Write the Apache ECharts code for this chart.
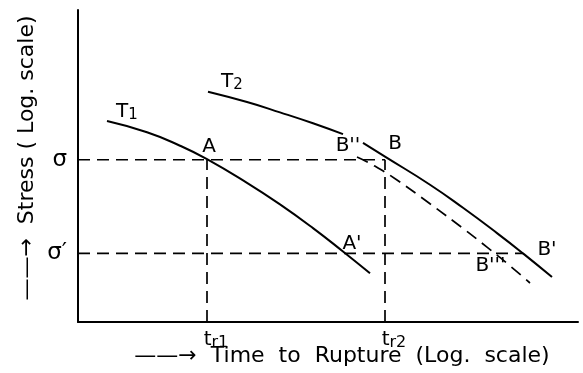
<!DOCTYPE html>
<html>
<head>
<meta charset="utf-8">
<script src="https://cdn.jsdelivr.net/npm/echarts@6/dist/echarts.min.js"></script>
<style>
  html, body { margin: 0; padding: 0; background: #fff; }
  #chart { width: 583px; height: 373px; }
</style>
</head>
<body>
<div id="chart"></div>
<script>
// log(time) and log(stress) in arbitrary units, 0..100 on both axes
const t1Time = [5.8, 13.8, 20.4, 25.8, 33.8, 40.4, 47.0, 53.0, 58.4];
const t1Stress = [64.4, 60.8, 56.5, 52.2, 44.6, 37.7, 30.1, 22.6, 15.6];

const t2UpperTime = [26, 33.8, 40.4, 47.0, 53.0];
const t2UpperStress = [73.8, 70.5, 67.2, 63.7, 60.2];
const t2LowerTime = [57, 61.4, 70.4, 77, 83.8, 89, 94.8];
const t2LowerStress = [57.4, 53.0, 44.0, 36.6, 28.5, 22.0, 14.4];

const shiftedTime = [55.8, 59, 63.8, 70.4, 77, 81.8, 85.8, 90.4];
const shiftedStress = [52.9, 50.3, 45.5, 37.9, 30.0, 24.0, 18.8, 12.5];

const sigma = 52;
const sigmaPrime = 22;
const tr1 = 25.8;
const tr2 = 61.4;

// point names and where they sit on the curves
const pointNames = ['T1', 'T2', 'A', "B''", 'B', "A'", "B'", "B'''"];
const pointTime = [5.8, 26, 25.8, 53.0, 61.4, 53.0, 89, 83.3];
const pointStress = [64.4, 73.8, 52.2, 60.2, 53.0, 22.0, 22.0, 22.0];

const labelOffsets = {
  'T1': [20, -9], 'T2': [24, -10], 'A': [2, -12], "B''": [5, 12],
  'B': [10, -13], "A'": [9, -10], "B'": [24, -4], "B'''": [-4, 12]
};

const font = 'DejaVu Sans';
const zip = (xs, ys) => xs.map((x, i) => [x, ys[i]]);

const solid = { color: '#000', width: 2 };
const dashed = { color: '#000', width: 1.7, type: [12, 7] };

function nameLabel(n) {
  if (n === 'T1') return 'T{s|1}';
  if (n === 'T2') return 'T{s|2}';
  return n;
}

const option = {
  animation: false,
  grid: { left: 78, right: 5, top: 10, bottom: 51, outerBoundsMode: 'none' },
  xAxis: {
    type: 'value', min: 0, max: 100,
    splitLine: { show: false },
    axisLine: { lineStyle: { color: '#000', width: 2 } },
    axisTick: { show: false },
    axisLabel: {
      customValues: [tr1, tr2],
      margin: 7,
      color: '#000',
      fontFamily: font,
      fontSize: 20,
      padding: [0, 0, 0, 18],
      formatter: v => v === tr1 ? 't{s|r1}' : 't{s|r2}',
      rich: { s: { fontSize: 16, padding: [6, 0, 0, 0], fontFamily: font, color: '#000' } }
    },
    name: '——→  Time  to  Rupture  (Log.  scale)',
    nameLocation: 'middle',
    nameGap: 23,
    nameMoveOverlap: false,
    nameTextStyle: { color: '#000', fontSize: 22, fontFamily: font, padding: [0, 0, 0, 28] }
  },
  yAxis: {
    type: 'value', min: 0, max: 100,
    splitLine: { show: false },
    axisLine: { lineStyle: { color: '#000', width: 2 } },
    axisTick: { show: false },
    axisLabel: {
      customValues: [sigma, sigmaPrime],
      margin: 11,
      color: '#000',
      fontFamily: font,
      fontSize: 23,
      formatter: v => v === sigma ? 'σ' : 'σ′'
    },
    name: '——→  Stress ( Log. scale)',
    nameLocation: 'middle',
    nameRotate: 90,
    nameGap: 40,
    nameMoveOverlap: false,
    nameTextStyle: { color: '#000', fontSize: 22, fontFamily: font, padding: [0, 0, 0, 16] }
  },
  series: [
    { type: 'line', data: zip(t1Time, t1Stress), smooth: true, symbol: 'none', lineStyle: solid },
    { type: 'line', data: zip(t2UpperTime, t2UpperStress), smooth: true, symbol: 'none', lineStyle: solid },
    { type: 'line', data: zip(t2LowerTime, t2LowerStress), smooth: true, symbol: 'none', lineStyle: solid },
    { type: 'line', data: zip(shiftedTime, shiftedStress), smooth: true, symbol: 'none', lineStyle: dashed },
    { type: 'line', data: [[0, sigma], [tr2, sigma]], symbol: 'none', lineStyle: dashed },
    { type: 'line', data: [[0, sigmaPrime], [89, sigmaPrime]], symbol: 'none', lineStyle: dashed },
    { type: 'line', data: [[tr1, 0], [tr1, sigma]], symbol: 'none', lineStyle: dashed },
    { type: 'line', data: [[tr2, 0], [tr2, sigma]], symbol: 'none', lineStyle: dashed },
    {
      type: 'scatter',
      symbolSize: 0,
      itemStyle: { opacity: 1 },
      data: pointNames.map((n, i) => ({
        value: [pointTime[i], pointStress[i]],
        label: { offset: labelOffsets[n], formatter: nameLabel(n) }
      })),
      label: {
        show: true,
        position: 'inside',
        color: '#000',
        fontFamily: font,
        fontSize: 20,
        rich: { s: { fontSize: 15, padding: [6, 0, 0, 0], fontFamily: font, color: '#000' } }
      }
    }
  ]
};

const chart = echarts.init(document.getElementById('chart'));
chart.setOption(option);
</script>
</body>
</html>
